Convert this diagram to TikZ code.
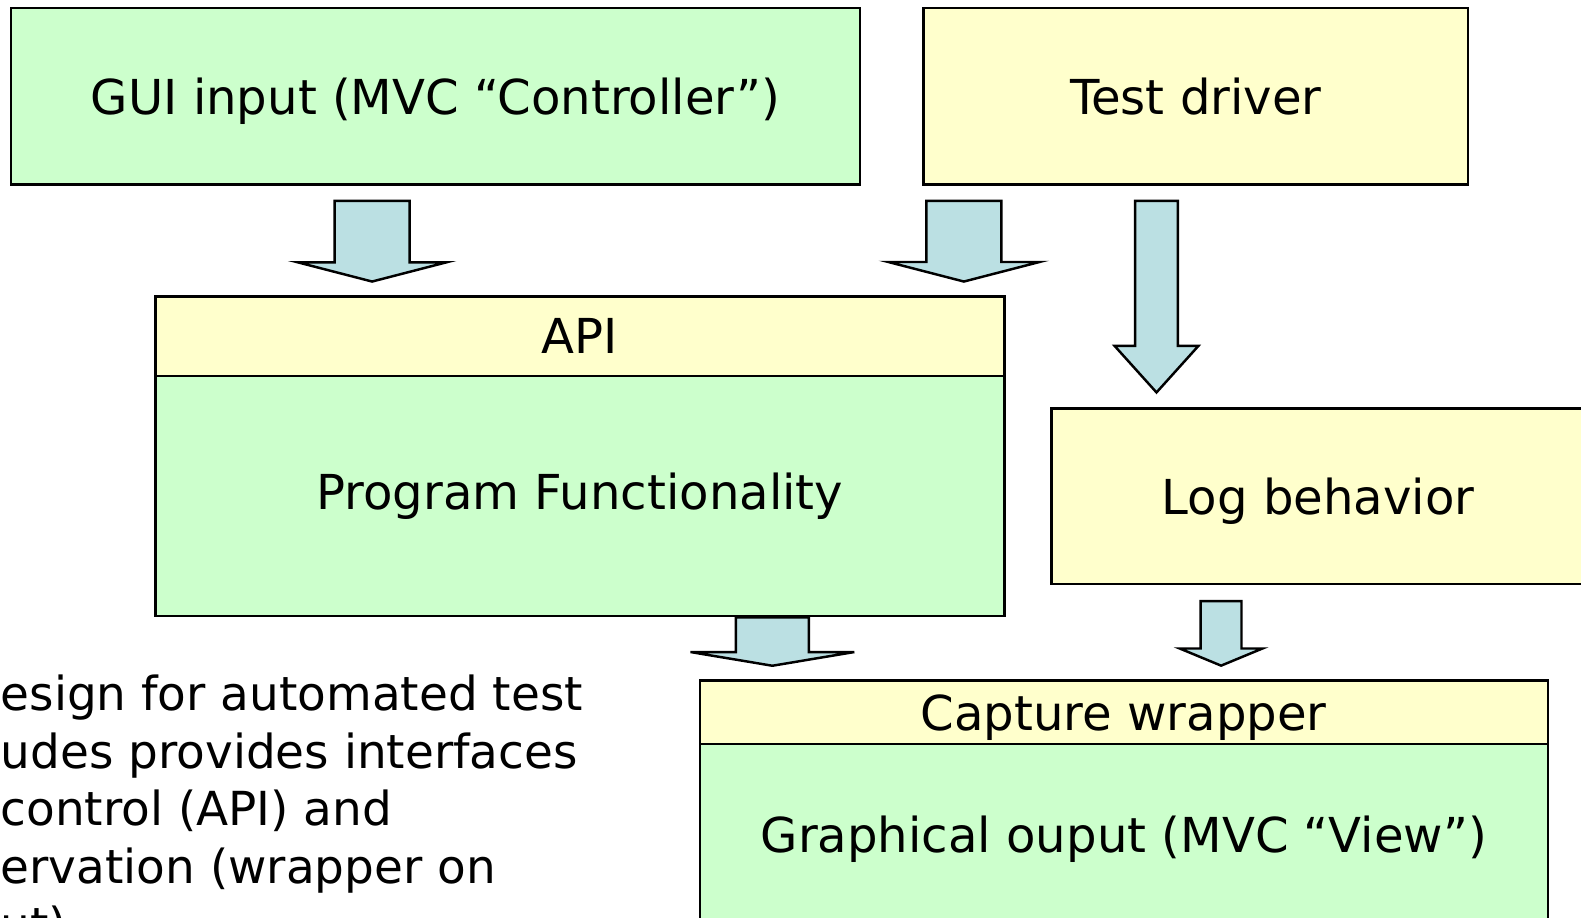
\documentclass[tikz,border=0pt]{standalone}
\usepackage{fontspec}
\setmainfont{DejaVu Sans}
\usetikzlibrary{shapes.arrows}

\definecolor{boxgreen}{RGB}{204,255,204}
\definecolor{boxyellow}{RGB}{255,255,204}
\definecolor{arrowblue}{RGB}{187,224,227}

\tikzset{
	box/.style={rectangle, draw, line width=0.7pt, inner sep=0pt, text depth=0pt, font=\fontsize{13.7}{16}\selectfont},
	greenbox/.style={box, fill=boxgreen},
	yellowbox/.style={box, fill=boxyellow},
	bigarrow/.style={single arrow, draw, fill=arrowblue, line width=0.7pt, rotate=-90, anchor=tail, inner xsep=0pt}
}

\begin{document}
\begin{tikzpicture}
		\useasboundingbox (0,0) rectangle (15.81,-9.17);
		\clip (0,0) rectangle (15.81,-9.17);

		% Top row
		\node[greenbox, minimum width=8.49cm, minimum height=1.764cm] (gui) at (4.356,-0.963) {GUI input (MVC “Controller”)};
		\node[yellowbox, minimum width=5.445cm, minimum height=1.764cm] (driver) at (11.959,-0.963) {Test driver};

		% Program with its API
		\node[yellowbox, minimum width=8.49cm, minimum height=0.797cm] (api) at (5.798,-3.363) {API};
		\node[greenbox, minimum width=8.49cm, minimum height=2.40cm] (prog) at (5.798,-4.961) {};
		\node (progtext) at (5.798,-4.96) {\fontsize{13.7}{16}\selectfont Program Functionality};

		\node[yellowbox, minimum width=5.33cm, minimum height=1.754cm] (log) at (13.182,-4.961) {Log behavior};

		% Output with its wrapper
		\node[yellowbox, minimum width=8.479cm, minimum height=0.635cm] (capture) at (11.238,-7.124) {Capture wrapper};
		\node[greenbox, minimum width=8.479cm, minimum height=1.81cm] (view) at (11.238,-8.346) {Graphical ouput (MVC “View”)};

		% Block arrows
		\node[bigarrow, minimum height=0.807cm, inner ysep=0.363cm, single arrow head extend=0.37cm, single arrow tip angle=151] (arrGui) at (3.721,-1.996) {};
		\node[bigarrow, minimum height=0.807cm, inner ysep=0.363cm, single arrow head extend=0.38cm, single arrow tip angle=151] (arrDriver) at (9.639,-1.996) {};
		\node[bigarrow, minimum height=1.916cm, inner ysep=0.2017cm, single arrow head extend=0.205cm, single arrow tip angle=84] (arrLog) at (11.565,-1.996) {};
		\node[bigarrow, minimum height=0.484cm, inner ysep=0.353cm, single arrow head extend=0.454cm, single arrow tip angle=161] (arrProg) at (7.724,-6.161) {};
		\node[bigarrow, minimum height=0.645cm, inner ysep=0.1916cm, single arrow head extend=0.21cm, single arrow tip angle=135] (arrCap) at (12.211,-5.999) {};

		% Description
		\node[anchor=base west, align=left, inner sep=0pt, font=\fontsize{13.35}{16.4}\selectfont] (desc) at (0,-9.41) {esign for automated test\\udes provides interfaces\\control (API) and\\ervation (wrapper on\\ut)};

	\end{tikzpicture}
\end{document}
